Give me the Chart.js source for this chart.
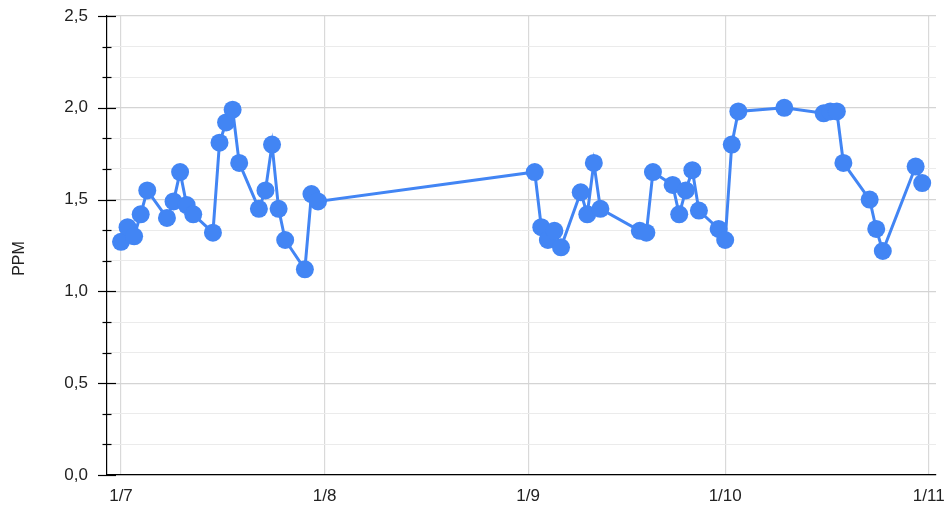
<!DOCTYPE html>
<html><head><meta charset="utf-8">
<script src="https://cdn.jsdelivr.net/npm/chart.js@4/dist/chart.umd.min.js"></script>
<style>html,body{margin:0;padding:0;background:#fff}</style>
</head><body>
<canvas id="c" width="946" height="505"></canvas>
<script>
const dates = [
  '2019-07-01','2019-07-02','2019-07-03','2019-07-04','2019-07-05',
  '2019-07-08','2019-07-09','2019-07-10','2019-07-11','2019-07-12',
  '2019-07-15','2019-07-16','2019-07-17','2019-07-18','2019-07-19',
  '2019-07-22','2019-07-23','2019-07-24','2019-07-25','2019-07-26',
  '2019-07-29','2019-07-30','2019-07-31',
  '2019-09-02','2019-09-03','2019-09-04','2019-09-05','2019-09-06',
  '2019-09-09','2019-09-10','2019-09-11','2019-09-12',
  '2019-09-18','2019-09-19','2019-09-20',
  '2019-09-23','2019-09-24','2019-09-25','2019-09-26','2019-09-27',
  '2019-09-30','2019-10-01','2019-10-02','2019-10-03',
  '2019-10-10',
  '2019-10-16','2019-10-17','2019-10-18','2019-10-19',
  '2019-10-23','2019-10-24','2019-10-25',
  '2019-10-30','2019-10-31'
];
const ppm = [
  1.27,1.35,1.30,1.42,1.55,
  1.40,1.49,1.65,1.47,1.42,
  1.32,1.81,1.92,1.99,1.70,
  1.45,1.55,1.80,1.45,1.28,
  1.12,1.53,1.49,
  1.65,1.35,1.28,1.33,1.24,
  1.54,1.42,1.70,1.45,
  1.33,1.32,1.65,
  1.58,1.42,1.55,1.66,1.44,
  1.34,1.28,1.80,1.98,
  2.00,
  1.97,1.98,1.98,1.70,
  1.50,1.34,1.22,
  1.68,1.59
];
const monthTickDates = ['2019-07-01','2019-08-01','2019-09-01','2019-10-01','2019-11-01'];
const monthTickLabels = ['1/7','1/8','1/9','1/10','1/11'];
const yMajorLabels = ['0,0','0,5','1,0','1,5','2,0','2,5'];
const yAxisTitle = 'PPM';

const ORIGIN = Date.UTC(2019,6,1);
function dayOf(s){const [y,m,d]=s.split('-').map(Number);return (Date.UTC(y,m-1,d)-ORIGIN)/86400000;}
const points = dates.map((d,i)=>({x:dayOf(d), y:ppm[i]}));
const monthTickVals = monthTickDates.map(dayOf);

const FONT = '"Liberation Sans", Arial, sans-serif';
const BLUE = '#4285F4';

const tickPlugin = {
  id:'tickMarks',
  afterDraw(chart){
    const ctx = chart.ctx, ys = chart.scales.y;
    const x0 = chart.chartArea.left;
    ctx.save();
    ctx.strokeStyle = '#000';
    ctx.lineWidth = 1.2;
    ys.ticks.forEach((t,i)=>{
      const y = Math.round(ys.getPixelForValue(t.value))+0.5;
      const major = i % 3 === 0;
      ctx.beginPath();
      if (major){ ctx.moveTo(x0-9,y); ctx.lineTo(x0+9,y); }
      else { ctx.moveTo(x0-4.5,y); ctx.lineTo(x0+4.5,y); }
      ctx.stroke();
    });
    ctx.fillStyle = '#222';
    ctx.font = '16px ' + FONT;
    ctx.textAlign = 'center';
    ctx.textBaseline = 'middle';
    ctx.translate(19.5, 258.5);
    ctx.rotate(-Math.PI/2);
    ctx.fillText(yAxisTitle, 0, 0);
    ctx.restore();
  }
};

new Chart(document.getElementById('c'), {
  type:'line',
  data:{datasets:[{
    data:points,
    borderColor:BLUE,
    backgroundColor:BLUE,
    borderWidth:3,
    pointRadius:9,
    pointHoverRadius:9,
    pointBorderWidth:0,
    pointBackgroundColor:BLUE,
    tension:0,
    clip:false
  }]},
  options:{
    responsive:false,
    animation:false,
    devicePixelRatio:1,
    layout:{padding:{top:16,right:10,left:0,bottom:0}},
    plugins:{legend:{display:false},tooltip:{enabled:false}},
    scales:{
      x:{
        type:'linear',
        min:-2.13, max:124.1,
        afterBuildTicks(s){ s.ticks = monthTickVals.map(v=>({value:v})); },
        afterFit(s){ s.height = 30; s.paddingLeft = 0; s.paddingRight = 0; },
        ticks:{
          autoSkip:false, maxRotation:0, padding:11,
          color:'#222', font:{family:FONT,size:17},
          callback(v,i){ return monthTickLabels[i]; }
        },
        grid:{color:'#d9d9d9', lineWidth:1.2, drawTicks:false},
        border:{display:true, color:'#000', width:1.2}
      },
      y:{
        type:'linear',
        min:0, max:2.5,
        afterBuildTicks(s){ const t=[]; for(let k=0;k<=15;k++) t.push({value:k/6}); s.ticks=t; },
        afterFit(s){ s.width = 107; s.paddingTop = 0; s.paddingBottom = 0; },
        ticks:{
          autoSkip:false, padding:19,
          color:'#222', font:{family:FONT,size:17},
          callback(v,i){ return i%3===0 ? yMajorLabels[i/3] : ''; }
        },
        grid:{
          drawTicks:false,
          color(ctx){ return ctx.index%3===0 ? '#d4d4d4' : '#ebebeb'; },
          lineWidth(ctx){ return ctx.index%3===0 ? 1.2 : 1; }
        },
        border:{display:true, color:'#000', width:1.2}
      }
    }
  },
  plugins:[tickPlugin]
});
</script>
</body></html>
